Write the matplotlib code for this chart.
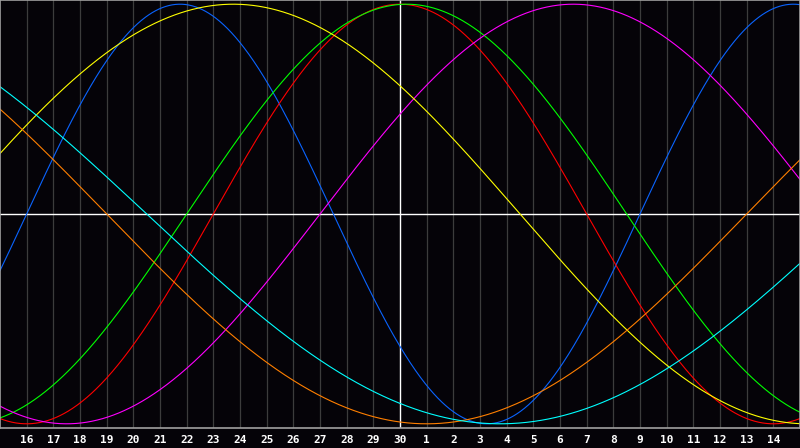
import numpy as np
import matplotlib
matplotlib.use("Agg")
import matplotlib.pyplot as plt

# Day labels along the bottom (30-day window: 15th .. 15th)
day_labels = [16, 17, 18, 19, 20, 21, 22, 23, 24, 25, 26, 27, 28, 29, 30,
              1, 2, 3, 4, 5, 6, 7, 8, 9, 10, 11, 12, 13, 14]

# Biorhythm cycles: period (days) and day of upward zero crossing
cycle_names = ["physical", "emotional", "intellectual", "intuitive",
               "aesthetic", "awareness", "spiritual"]
periods = [23, 28, 33, 38, 43, 48, 53]
zero_days = [1.0, 8.0, 7.0, 12.0, -2.0, 28.0, 32.0]
colors = ["#0a64ff", "#ff0000", "#00ff00", "#ff00ff", "#ffff00", "#ff7f00", "#00ffff"]

span = 30
bg = "#050308"

fig = plt.figure(figsize=(8, 4.48), dpi=100, facecolor=bg)
ax = fig.add_axes([0, 20 / 448, 1, 428 / 448], facecolor=bg)

t = np.linspace(0, span, 1200)

# grid lines for each day, white one at the month change
for d in range(1, span):
    ax.axvline(d, color="#ffffff" if d == 15 else "#3c3c3c", lw=1.0 if d == 15 else 0.9, zorder=1)
ax.axhline(0, color="white", lw=1.0, zorder=1)

for name, p, z, c in zip(cycle_names, periods, zero_days, colors):
    ax.plot(t, np.sin(2 * np.pi * (t - z) / p), color=c, lw=0.8, label=name, zorder=2)

ax.set_xlim(0, span)
ax.set_ylim(-1.02, 1.02)
ax.set_yticks([])
ax.set_xticks(range(1, span))
ax.set_xticklabels([str(d) for d in day_labels], color="white",
                   fontsize=8, fontweight="bold", family="DejaVu Sans Mono")
ax.tick_params(axis="x", length=0, pad=5)
for s in ax.spines.values():
    s.set_color("#a0a0a0")
    s.set_linewidth(1.2)

fig.savefig("out.png", dpi=100, facecolor=bg)
